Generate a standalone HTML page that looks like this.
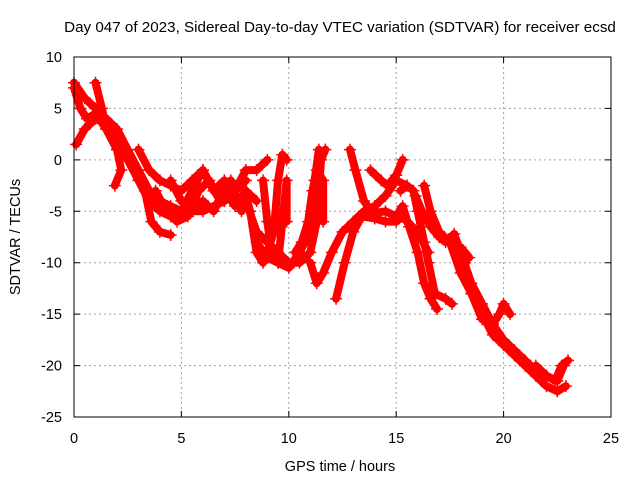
<!DOCTYPE html>
<html><head><meta charset="utf-8"><style>
body{margin:0;background:#fff;}
svg{font-family:"Liberation Sans",sans-serif;}
</style></head><body>
<svg id="chart" width="640" height="480" xmlns="http://www.w3.org/2000/svg">
<rect width="640" height="480" fill="#fff"/>
<text x="340" y="32" font-size="15.2" text-anchor="middle">Day 047 of 2023, Sidereal Day-to-day VTEC variation (SDTVAR) for receiver ecsd</text>
<text x="340" y="471" font-size="14.5" text-anchor="middle">GPS time / hours</text>
<text x="20" y="237" font-size="14.5" text-anchor="middle" transform="rotate(-90 20 237)">SDTVAR / TECUs</text>
<g id="grid"></g><g id="marks"></g>
<rect x="74" y="57" width="537" height="360" fill="none" stroke="#000" stroke-width="1"/>
</svg>
<script>
const xTicks=[0,5,10,15,20,25];
const yTicks=[-25,-20,-15,-10,-5,0,5,10];
const trackA=[[0,7.5],[0.5,6],[1,5],[1.5,4],[2,3],[2.5,1],[3,-1],[3.3,-3],[3.6,-6],[4,-7],[4.5,-7.3]];
const trackB=[[0,7],[0.3,5],[0.6,4],[1,4.5],[1.5,3],[2,1],[2.5,0],[3,-1],[3.5,-3],[4,-4],[4.5,-4.5],[5,-5],[6,-5],[7,-4],[8,-2]];
const trackC=[[0.1,1.5],[0.5,3],[1,4],[1.5,3.5],[2,2],[2.5,0],[3,-2],[3.5,-4],[4,-5],[4.5,-5.5],[5,-5],[5.5,-3],[6,-1],[6.5,-3],[7,-2],[7.5,-3],[8,-1]];
const trackD=[[1,7.5],[1.3,5],[1.5,3],[2,1],[2.2,-1],[1.9,-2.5]];
const trackE=[[3,1],[3.5,-1],[4,-2],[4.5,-2.5],[5,-3],[5.5,-2],[6,-1],[6.5,-3],[7,-4],[7.5,-3],[8,-1],[8.5,-1],[9,0]];
const trackS=[[4.5,-2],[5,-4],[5.5,-5],[6,-4],[6.5,-5],[7,-3],[7.5,-4.5],[8,-3],[8.5,-4]];
const trackT=[[3.8,-3],[4.3,-5],[4.8,-6],[5.3,-5.5],[5.8,-3],[6.3,-2],[6.8,-4],[7.3,-2],[7.8,-5]];
const trackF=[[7.8,-2],[8.2,-5],[8.5,-9],[8.8,-10],[9,-9],[9.3,-7],[9.5,-2],[9.7,0.5],[9.9,0]];
const trackU=[[8.8,-2],[9,-6],[9.2,-9],[9.5,-10],[9.7,-6],[9.9,-2],[9.9,-6]];
const trackG=[[8,-4],[8.5,-7],[9,-8],[9.5,-9],[10,-10],[10.5,-10],[11,-9],[11.3,-6],[11.5,0],[11.7,1]];
const trackH=[[8.5,-8],[9,-9.5],[9.5,-10],[10,-10.5],[10.5,-9],[11,-7],[11.2,-2],[11.4,1]];
const trackV=[[10.3,-9],[10.6,-8],[10.9,-6],[11.1,-3],[11.3,-1],[11.6,-2],[11.6,-6]];
const trackI=[[11,-10],[11.3,-12],[11.6,-11],[12,-9],[12.5,-7],[13,-6],[13.5,-5],[14,-4.5],[14.5,-3.5],[15,-2],[15.5,-2.5]];
const trackJ=[[12.2,-13.5],[12.6,-10],[13,-7],[13.4,-5.5],[14,-5.7],[14.5,-6],[15,-6],[15.3,-5.5],[15.5,-6],[16,-7],[16.5,-9]];
const trackK=[[12.85,1],[13.1,-1],[13.5,-4],[13.9,-5.2],[14.5,-5],[15,-5.5],[15.3,-4.5],[15.6,-6.5],[16,-9],[16.3,-12],[16.6,-13.5],[16.9,-14.5]];
const trackL=[[13.8,-1],[14.3,-2],[14.6,-2.5],[15,-1.5],[15.3,0]];
const trackM=[[15.2,-3],[15.5,-2.5],[15.8,-3],[16,-5],[16.3,-8],[16.5,-10],[16.8,-13],[17.3,-13.5],[17.6,-14]];
const trackN=[[16.3,-2.5],[16.6,-5],[17,-7],[17.5,-8],[18,-8.5],[18.4,-9.5]];
const trackO=[[15.9,-3.5],[16.2,-5],[16.6,-6.5],[17,-7.5],[17.3,-8],[17.7,-7.2],[18,-9],[18.5,-12],[19,-14],[19.5,-16],[20,-17.5],[20.5,-18.5],[21,-19.5],[21.5,-20.5],[22,-21],[22.5,-21.5],[22.8,-20]];
const trackP=[[18.2,-10],[18.5,-13],[19,-15.5],[19.5,-16],[19.8,-15],[20,-14],[20.3,-15]];
const trackQ=[[17.5,-8],[18,-11],[18.5,-13],[19,-15],[19.5,-17],[20,-18],[20.5,-19],[21,-20],[21.5,-21],[22,-22],[22.5,-22.5],[22.9,-22]];
const trackR=[[21.5,-20],[22,-21],[22.4,-21.5],[22.7,-20],[23,-19.5]];
const tracks=[trackA,trackB,trackC,trackD,trackE,trackS,trackT,trackF,trackU,trackG,trackH,trackV,trackI,trackJ,trackK,trackL,trackM,trackN,trackO,trackP,trackQ,trackR];
const NS="http://www.w3.org/2000/svg";
const X0=74,X1=611,Y0=417,Y1=57;
function xs(v){return X0+(v-0)/(25-0)*(X1-X0);}
function ys(v){return Y0-(v+25)/(35)*(Y0-Y1);}
const grid=document.getElementById('grid');
xTicks.forEach(t=>{
 const x=xs(t);
 if(t>0&&t<25){const l=document.createElementNS(NS,'line');
 
 
 l.setAttribute('x1',x);l.setAttribute('x2',x);l.setAttribute('y1',Y1);l.setAttribute('y2',Y0);
 l.setAttribute('stroke','#a0a0a0');l.setAttribute('stroke-dasharray','2,3');grid.appendChild(l);}
 const tk=document.createElementNS(NS,'path');
 
 
 tk.setAttribute('d',`M${x},${Y0}v-6M${x},${Y1}v6`);tk.setAttribute('stroke','#000');grid.appendChild(tk);
 const tx=document.createElementNS(NS,'text');
 
 
 tx.setAttribute('x',x);tx.setAttribute('y',443);tx.setAttribute('font-size','14.5');tx.setAttribute('text-anchor','middle');
 tx.textContent=t;grid.appendChild(tx);
});
yTicks.forEach(t=>{
 const y=ys(t);
 if(t>-25&&t<10){const l=document.createElementNS(NS,'line');
 
 
 l.setAttribute('x1',X0);l.setAttribute('x2',X1);l.setAttribute('y1',y);l.setAttribute('y2',y);
 l.setAttribute('stroke','#a0a0a0');l.setAttribute('stroke-dasharray','2,3');grid.appendChild(l);}
 const tk=document.createElementNS(NS,'path');
 
 
 tk.setAttribute('d',`M${X0},${y}h6M${X1},${y}h-6`);tk.setAttribute('stroke','#000');grid.appendChild(tk);
 const tx=document.createElementNS(NS,'text');
 
 
 tx.setAttribute('x',62);tx.setAttribute('y',y+5);tx.setAttribute('font-size','14.5');tx.setAttribute('text-anchor','end');
 tx.textContent=t;grid.appendChild(tx);
});
const marks=document.getElementById('marks');
tracks.forEach(tr=>{
 const p=document.createElementNS(NS,'polyline');
 
 
 p.setAttribute('points',tr.map(d=>xs(d[0])+','+ys(d[1])).join(' '));
 p.setAttribute('fill','none');p.setAttribute('stroke','#ff0000');p.setAttribute('stroke-width','8');
 p.setAttribute('stroke-linejoin','round');p.setAttribute('stroke-linecap','round');
 marks.appendChild(p);
 tr.forEach(d=>{
  const m=document.createElementNS(NS,'path');
  
  
  const x=xs(d[0]),y=ys(d[1]);
  m.setAttribute('d',`M${x-6},${y}h12M${x},${y-6}v12`);
  m.setAttribute('stroke','#ff0000');m.setAttribute('stroke-width','1.5');
  marks.appendChild(m);
 });
});
</script>
</body></html>
